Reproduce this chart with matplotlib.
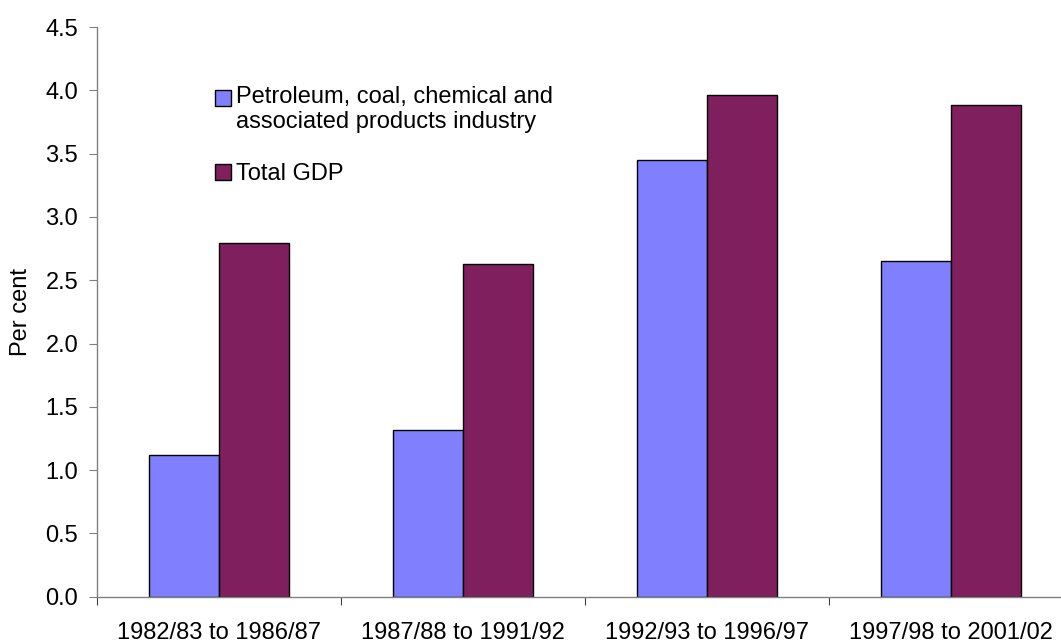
import matplotlib
matplotlib.use("Agg")
import matplotlib.pyplot as plt
import numpy as np
from matplotlib.patches import Rectangle
from matplotlib.legend_handler import HandlerPatch

periods = ["1982/83 to 1986/87", "1987/88 to 1991/92",
           "1992/93 to 1996/97", "1997/98 to 2001/02"]
industry_growth = [1.12, 1.32, 3.45, 2.65]
gdp_growth = [2.79, 2.63, 3.96, 3.88]
series_names = ["Petroleum, coal, chemical and\nassociated products industry",
                "Total GDP"]
y_ticks = [0.0, 0.5, 1.0, 1.5, 2.0, 2.5, 3.0, 3.5, 4.0, 4.5]
y_label = "Per cent"

plt.rcParams["font.family"] = ["Liberation Sans", "DejaVu Sans"]
plt.rcParams["font.size"] = 17

W, H = 1061, 642
fig = plt.figure(figsize=(W / 100, H / 100), dpi=100)
ax = fig.add_axes([96.8 / W, 45.3 / H, 976 / W, 569.7 / H])

x = np.arange(len(periods))
width = 0.287
bars_ind = ax.bar(x - width / 2, industry_growth, width, color="#8080FF",
                  edgecolor="black", linewidth=1.0, label=series_names[0])
bars_gdp = ax.bar(x + width / 2, gdp_growth, width, color="#801F5E",
                  edgecolor="black", linewidth=1.0, label=series_names[1])

ax.set_xlim(-0.5, len(periods) - 0.5)
ax.set_ylim(0, 4.5)
ax.set_yticks(y_ticks)
ax.set_yticklabels([f"{v:.1f}" for v in y_ticks])
ax.set_xticks(x)
ax.set_xticklabels(periods)
ax.set_xticks(np.arange(-0.5, len(periods), 1.0), minor=True)

axis_grey = "#808080"
for side in ("top", "right"):
    ax.spines[side].set_visible(False)
for side in ("left", "bottom"):
    ax.spines[side].set_color(axis_grey)
    ax.spines[side].set_linewidth(1.0)

ax.tick_params(axis="x", which="major", length=0, pad=18)
ax.tick_params(axis="x", which="minor", length=5.8, width=0.8, color="#404040")
ax.tick_params(axis="y", which="major", length=5.8, width=0.8, color=axis_grey, pad=7.6)

ax.set_ylabel(y_label)
ax.yaxis.set_label_coords(-0.0667, 0.5)


def first_line_patch(shift_em):
    # Legend key aligned with the first line of a wrapped label
    def make(legend, orig_handle, xdescent, ydescent, width, height, fontsize):
        return Rectangle((-xdescent, -ydescent + shift_em * fontsize), width, height)
    return make


handles = [bars_ind.patches[0], bars_gdp.patches[0]]
leg = ax.legend(handles, series_names,
                handler_map={bars_ind.patches[0]: HandlerPatch(patch_func=first_line_patch(0.5))},
                loc="upper left", bbox_to_anchor=(215 / W, (H - 86) / H),
                bbox_transform=fig.transFigure, frameon=False, borderpad=0,
                borderaxespad=0, handletextpad=0.2, handlelength=0.68,
                handleheight=0.68, labelspacing=1.25)

fig.savefig("out.png", dpi=100)
